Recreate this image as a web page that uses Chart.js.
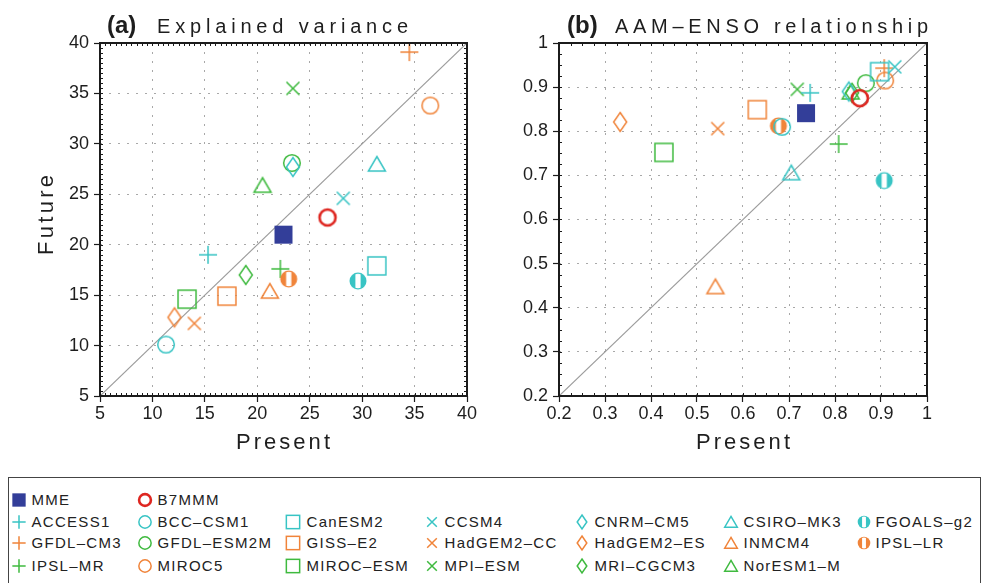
<!DOCTYPE html>
<html>
<head>
<meta charset="utf-8">
<script src="https://cdn.jsdelivr.net/npm/chart.js@4.4.0/dist/chart.umd.min.js"></script>
<style>
  html, body { margin: 0; padding: 0; background: #fff; }
  body { width: 982px; height: 583px; position: relative; overflow: hidden; font-family: 'Liberation Sans', Arial, sans-serif; }
  .panel { position: absolute; top: 0; width: 491px; height: 470px; }
  #panelA { left: 0; }
  #panelB { left: 491px; }
  #legend { position: absolute; left: 8px; top: 477px; width: 973px; height: 130px; border: 1.5px solid #444; box-sizing: border-box; }
  .item { position: absolute; height: 20px; line-height: 20px; font-size: 15px; letter-spacing: 1.3px; color: #222; white-space: nowrap; }
  .item canvas { position: absolute; left: 0; top: 0; }
  .item span { position: absolute; top: 0; }
</style>
</head>
<body>
<div class="panel" id="panelA"><canvas id="chartA" width="491" height="470"></canvas></div>
<div class="panel" id="panelB"><canvas id="chartB" width="491" height="470"></canvas></div>
<div id="legend"></div>
<script>
// models, in legend order
const models = ['MME', 'B7MMM', 'ACCESS1', 'BCC-CSM1', 'CanESM2', 'CCSM4', 'CNRM-CM5',
  'CSIRO-MK3', 'FGOALS-g2', 'GFDL-CM3', 'GFDL-ESM2M', 'GISS-E2', 'HadGEM2-CC',
  'HadGEM2-ES', 'INMCM4', 'IPSL-LR', 'IPSL-MR', 'MIROC5', 'MIROC-ESM', 'MPI-ESM',
  'MRI-CGCM3', 'NorESM1-M'];

// (a) explained variance, present vs future
const varPresent = [22.5, 26.7, 15.3, 11.3, 31.4, 28.2, 23.4, 31.4, 29.6, 34.5, 23.3,
  17.1, 14.0, 12.1, 21.2, 23.0, 22.2, 36.5, 13.3, 23.4, 18.9, 20.5];
const varFuture = [21.0, 22.7, 19.0, 10.1, 17.9, 24.6, 27.7, 28.0, 16.4, 39.1, 28.1,
  14.9, 12.2, 12.8, 15.4, 16.6, 17.6, 33.8, 14.6, 35.5, 17.0, 25.9];

// (b) AAM-ENSO relationship, present vs future
const corrPresent = [0.737, 0.854, 0.746, 0.685, 0.897, 0.930, 0.830, 0.705, 0.907, 0.907,
  0.867, 0.631, 0.545, 0.333, 0.540, 0.677, 0.808, 0.909, 0.428, 0.718, 0.837, 0.834];
const corrFuture = [0.841, 0.875, 0.887, 0.810, 0.935, 0.946, 0.890, 0.706, 0.688, 0.943,
  0.909, 0.849, 0.806, 0.821, 0.448, 0.812, 0.771, 0.915, 0.752, 0.895, 0.887, 0.889];

const varTicks = [5, 10, 15, 20, 25, 30, 35, 40];
const corrTicks = [0.2, 0.3, 0.4, 0.5, 0.6, 0.7, 0.8, 0.9, 1];

const CYAN = '#38c4c4', ORANGE = '#f0843a', GREEN = '#3fba3f', RED = '#de2620', BLUE = '#333e99';
const markers = {
  'MME': ['fsquare', BLUE], 'B7MMM': ['boldcircle', RED],
  'ACCESS1': ['plus', CYAN], 'BCC-CSM1': ['circle', CYAN], 'CanESM2': ['square', CYAN],
  'CCSM4': ['cross', CYAN], 'CNRM-CM5': ['diamond', CYAN], 'CSIRO-MK3': ['triangle', CYAN],
  'FGOALS-g2': ['split', CYAN],
  'GFDL-CM3': ['plus', ORANGE], 'GFDL-ESM2M': ['circle', GREEN], 'GISS-E2': ['square', ORANGE],
  'HadGEM2-CC': ['cross', ORANGE], 'HadGEM2-ES': ['diamond', ORANGE], 'INMCM4': ['triangle', ORANGE],
  'IPSL-LR': ['split', ORANGE],
  'IPSL-MR': ['plus', GREEN], 'MIROC5': ['circle', ORANGE], 'MIROC-ESM': ['square', GREEN],
  'MPI-ESM': ['cross', GREEN], 'MRI-CGCM3': ['diamond', GREEN], 'NorESM1-M': ['triangle', GREEN]
};

const legendRows = [
  ['MME', 'B7MMM'],
  ['ACCESS1', 'BCC-CSM1', 'CanESM2', 'CCSM4', 'CNRM-CM5', 'CSIRO-MK3', 'FGOALS-g2'],
  ['GFDL-CM3', 'GFDL-ESM2M', 'GISS-E2', 'HadGEM2-CC', 'HadGEM2-ES', 'INMCM4', 'IPSL-LR'],
  ['IPSL-MR', 'MIROC5', 'MIROC-ESM', 'MPI-ESM', 'MRI-CGCM3', 'NorESM1-M']
];

const dash = s => s.replace(/-/g, '\u2013');

function drawMarker(ctx, kind, color, cx, cy, k) {
  ctx.save();
  ctx.strokeStyle = color;
  ctx.fillStyle = color;
  ctx.lineWidth = 1.5;
  ctx.beginPath();
  switch (kind) {
    case 'fsquare':
      ctx.fillRect(cx - 9 * k, cy - 9 * k, 18 * k, 18 * k);
      break;
    case 'circle':
      ctx.arc(cx, cy, 8.3 * k, 0, Math.PI * 2);
      ctx.stroke();
      break;
    case 'boldcircle':
      ctx.lineWidth = 2.6;
      ctx.arc(cx, cy, 8 * k, 0, Math.PI * 2);
      ctx.stroke();
      break;
    case 'plus':
      ctx.moveTo(cx - 9 * k, cy); ctx.lineTo(cx + 9 * k, cy);
      ctx.moveTo(cx, cy - 9 * k); ctx.lineTo(cx, cy + 9 * k);
      ctx.stroke();
      break;
    case 'cross':
      ctx.moveTo(cx - 6.5 * k, cy - 6.5 * k); ctx.lineTo(cx + 6.5 * k, cy + 6.5 * k);
      ctx.moveTo(cx - 6.5 * k, cy + 6.5 * k); ctx.lineTo(cx + 6.5 * k, cy - 6.5 * k);
      ctx.stroke();
      break;
    case 'square':
      ctx.strokeRect(cx - 9 * k, cy - 9 * k, 18 * k, 18 * k);
      break;
    case 'diamond':
      ctx.moveTo(cx, cy - 9.5 * k); ctx.lineTo(cx + 6.5 * k, cy);
      ctx.lineTo(cx, cy + 9.5 * k); ctx.lineTo(cx - 6.5 * k, cy);
      ctx.closePath();
      ctx.stroke();
      break;
    case 'triangle':
      ctx.moveTo(cx, cy - 7.5 * k); ctx.lineTo(cx + 8.5 * k, cy + 7 * k);
      ctx.lineTo(cx - 8.5 * k, cy + 7 * k);
      ctx.closePath();
      ctx.stroke();
      break;
    case 'split':
      ctx.arc(cx, cy, 8.5 * k, 0, Math.PI * 2);
      ctx.fill();
      ctx.save();
      ctx.beginPath();
      ctx.arc(cx, cy, 7.3 * k, 0, Math.PI * 2);
      ctx.clip();
      ctx.fillStyle = '#fff';
      ctx.fillRect(cx - 2.6 * k, cy - 10 * k, 5.2 * k, 20 * k);
      ctx.restore();
      break;
  }
  ctx.restore();
}

function markerImage(name, k, size) {
  const c = document.createElement('canvas');
  c.width = size; c.height = size;
  const [kind, color] = markers[name];
  drawMarker(c.getContext('2d'), kind, color, size / 2, size / 2, k);
  return c;
}

// text drawn glyph by glyph so the spacing can be stretched to a given width
function spacedText(ctx, text, x, y, width) {
  const w = ctx.measureText(text).width;
  const gap = text.length > 1 ? (width - w) / (text.length - 1) : 0;
  let cx = x;
  for (const ch of text) {
    ctx.fillText(ch, cx, y);
    cx += ctx.measureText(ch).width + gap;
  }
}

const frameAndText = {
  id: 'frameAndText',
  afterDatasetsDraw(chart, args, o) {
    const { ctx, chartArea: a, scales } = chart;
    ctx.save();
    ctx.strokeStyle = '#1b1b1b';
    ctx.lineWidth = 1;
    ctx.beginPath();
    const n = Math.round((o.max - o.min) / o.minor);
    for (let i = 0; i <= n; i++) {
      const v = o.min + i * o.minor;
      const px = Math.round(scales.x.getPixelForValue(v)) + 0.5;
      const py = Math.round(scales.y.getPixelForValue(v)) + 0.5;
      ctx.moveTo(px, a.top); ctx.lineTo(px, a.top + 3);
      ctx.moveTo(px, a.bottom); ctx.lineTo(px, a.bottom - 3);
      ctx.moveTo(a.left, py); ctx.lineTo(a.left + 3, py);
      ctx.moveTo(a.right, py); ctx.lineTo(a.right - 3, py);
    }
    ctx.stroke();
    ctx.lineWidth = 2;
    ctx.strokeRect(a.left, a.top, a.right - a.left, a.bottom - a.top);

    ctx.fillStyle = '#1e1e1e';
    ctx.textBaseline = 'alphabetic';
    ctx.font = 'bold 24px "Liberation Sans", Arial, sans-serif';
    ctx.fillText(o.tag, o.tagX, 33);
    ctx.font = '20px "Liberation Sans", Arial, sans-serif';
    spacedText(ctx, o.title, o.titleX, 33, o.titleW);

    ctx.font = '22px "Liberation Sans", Arial, sans-serif';
    spacedText(ctx, 'Present', o.presentX - 47, 449, 94);
    if (o.yTitle) {
      ctx.translate(53, 215);
      ctx.rotate(-Math.PI / 2);
      spacedText(ctx, o.yTitle, -40, 0, 80);
    }
    ctx.restore();
  }
};

function makePanel(id, xs, ys, ticks, minor, decor) {
  const min = ticks[0], max = ticks[ticks.length - 1];
  const datasets = models.map((m, i) => ({
    label: m,
    data: [{ x: xs[i], y: ys[i] }],
    pointStyle: markerImage(m, 1, 26),
    pointRadius: 10,
    pointHoverRadius: 10,
    order: 0
  }));
  datasets.push({
    label: '1:1',
    data: [{ x: min, y: min }, { x: max, y: max }],
    showLine: true,
    borderColor: '#9c9c9c',
    borderWidth: 1.2,
    pointRadius: 0,
    order: 1
  });
  const axisFont = { family: '"Liberation Sans", Arial, sans-serif', size: 18 };
  const common = {
    type: 'linear',
    min: min,
    max: max,
    afterBuildTicks: s => { s.ticks = ticks.map(v => ({ value: v })); },
    ticks: { font: axisFont, color: '#1e1e1e', callback: v => String(v) },
    grid: { color: '#a8a8a8', lineWidth: 1, tickColor: '#1b1b1b', tickLength: 6, tickWidth: 1.2 },
    border: { display: false, dash: [2, 7] }
  };
  return new Chart(document.getElementById(id), {
    type: 'scatter',
    data: { datasets },
    options: {
      responsive: false,
      animation: false,
      events: [],
      devicePixelRatio: 1,
      layout: { padding: { top: 43, right: decor.padRight, left: 0, bottom: 0 } },
      plugins: { legend: { display: false }, tooltip: { enabled: false }, frameAndText: Object.assign({ min, max, minor }, decor) },
      scales: {
        x: Object.assign({}, common, { ticks: Object.assign({}, common.ticks, { padding: 1 }), afterFit: s => { s.height = 74; } }),
        y: Object.assign({}, common, { ticks: Object.assign({}, common.ticks, { padding: 5 }), afterFit: s => { s.width = decor.axisLeft; } })
      }
    },
    plugins: [frameAndText]
  });
}

makePanel('chartA', varPresent, varFuture, varTicks, 0.5, {
  axisLeft: 100, padRight: 24, tag: '(a)', tagX: 107, title: 'Explained variance',
  titleX: 157, titleW: 251, presentX: 283, yTitle: 'Future'
});
makePanel('chartB', corrPresent, corrFuture, corrTicks, 0.025, {
  axisLeft: 68, padRight: 55, tag: '(b)', tagX: 76, title: dash('AAM-ENSO relationship'),
  titleX: 124, titleW: 313, presentX: 252, yTitle: null
});

// legend grid
const legendEl = document.getElementById('legend');
const colSymbol = [19, 145, 293, 432, 582, 731, 864];
const colText = [32, 158, 307, 445, 595, 744, 876];
const rowY = [500, 522, 543.5, 566];
legendRows.forEach((row, r) => {
  row.forEach((name, c) => {
    const item = document.createElement('div');
    item.className = 'item';
    const left = colSymbol[c] - 10;
    item.style.left = (left - 9.5) + 'px';
    item.style.top = (rowY[r] - 10 - 478.5) + 'px';
    item.appendChild(markerImage(name, 0.74, 20));
    const label = document.createElement('span');
    label.textContent = dash(name);
    label.style.left = (colText[c] - left) + 'px';
    item.appendChild(label);
    legendEl.appendChild(item);
  });
});
</script>
</body>
</html>
